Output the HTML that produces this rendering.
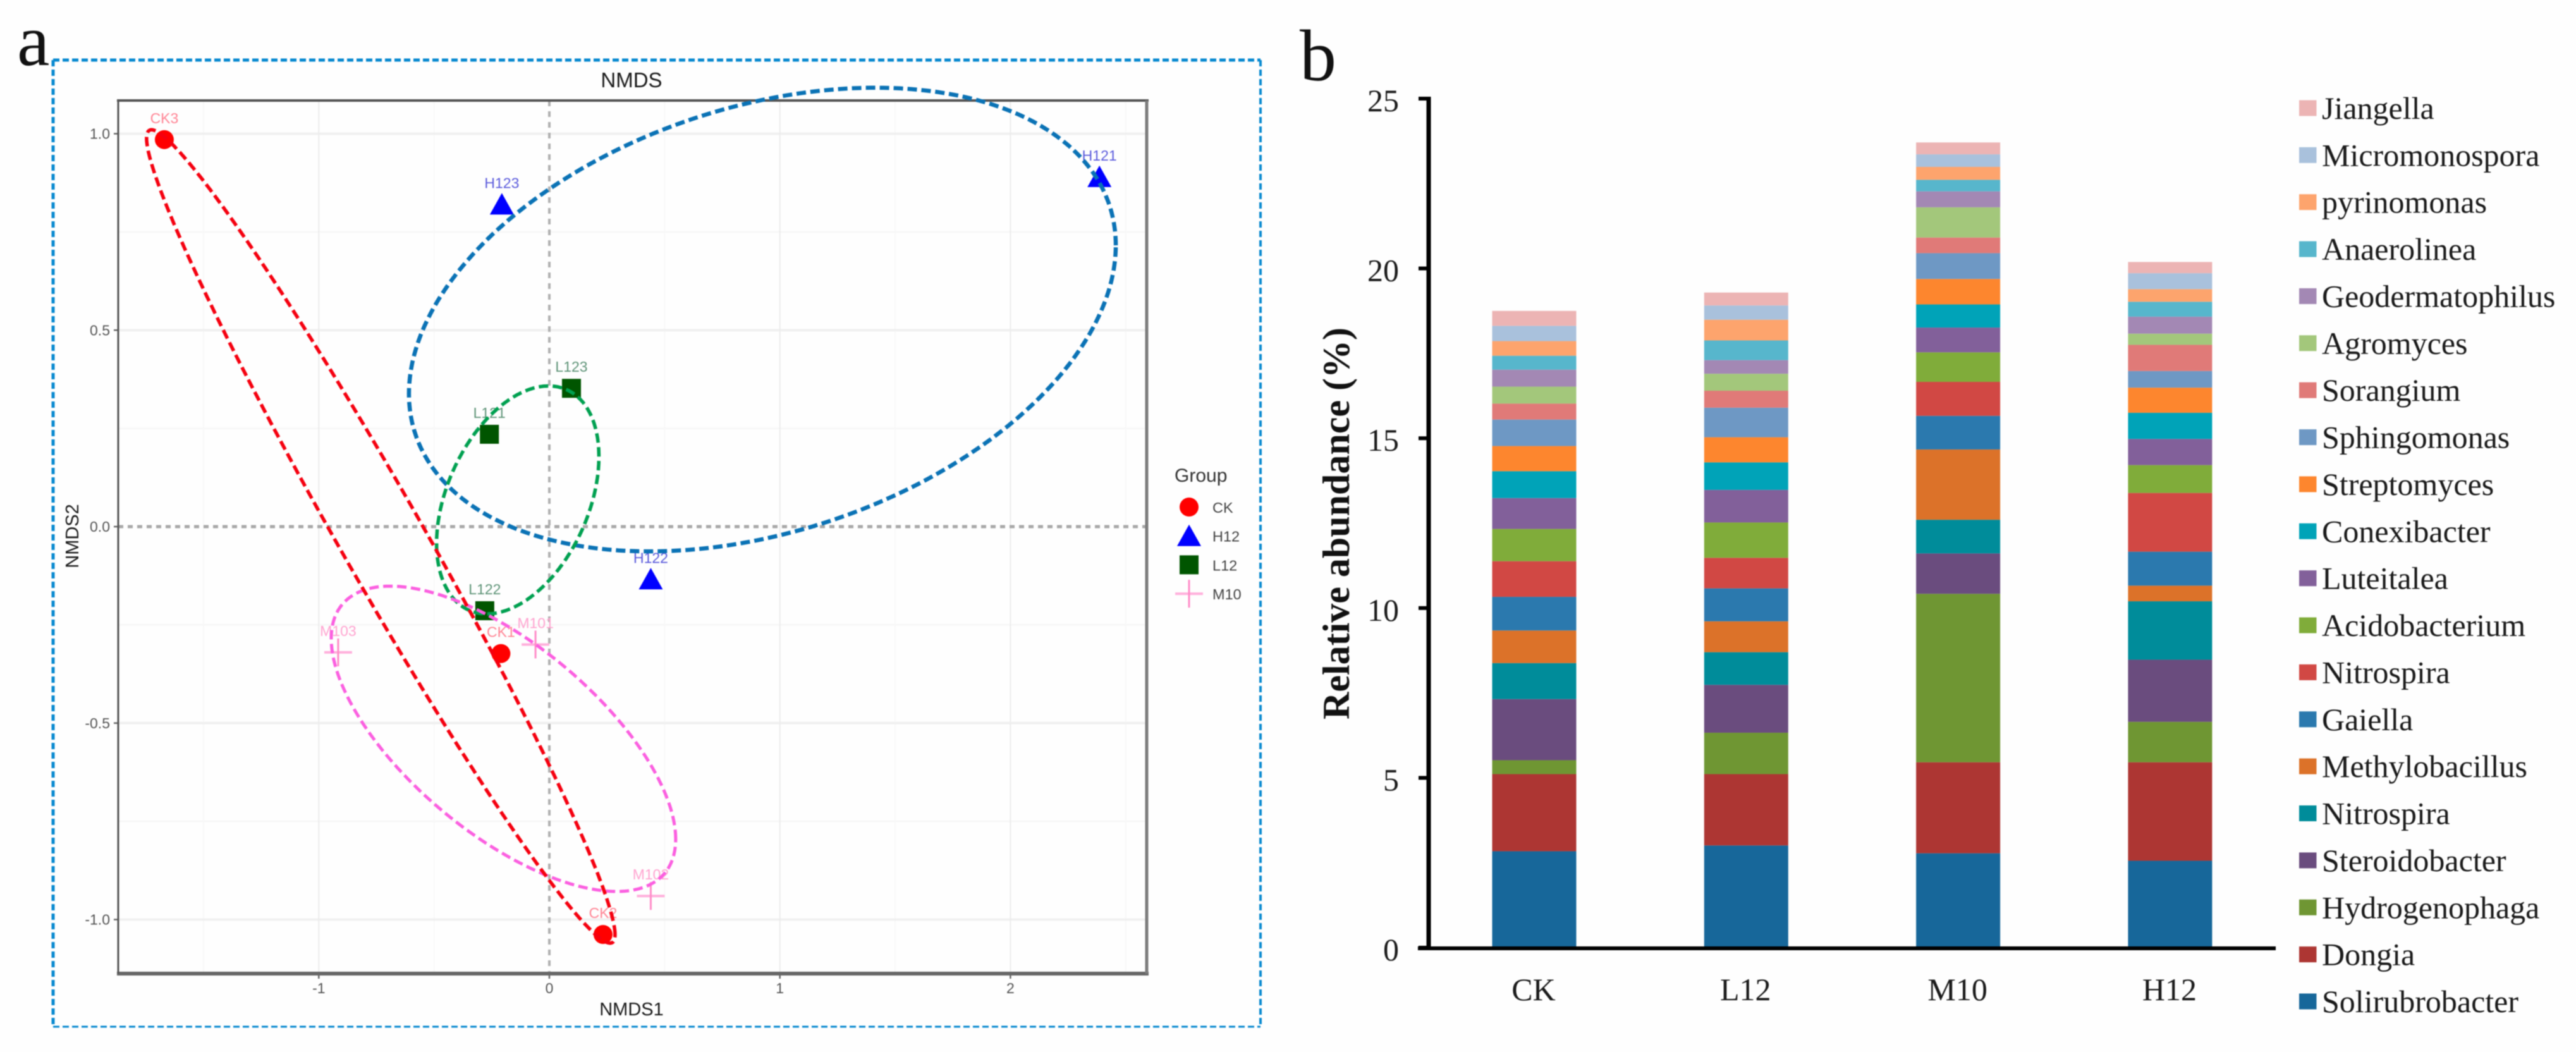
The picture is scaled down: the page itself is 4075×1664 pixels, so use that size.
<!DOCTYPE html>
<html lang="en">
<head>
<meta charset="utf-8">
<title>NMDS ordination and relative abundance</title>
<style>
html,body{margin:0;padding:0;background:#fff;width:4075px;height:1664px;overflow:hidden}
svg{display:block;filter:blur(0.8px)}
.sans{font-family:"Liberation Sans",sans-serif}
.serif{font-family:"Liberation Serif",serif}
</style>
</head>
<body>
<svg id="figure" xmlns="http://www.w3.org/2000/svg" width="4075" height="1664" viewBox="0 0 4075 1664">
<rect x="0" y="0" width="4075" height="1664" fill="#fefefe"/>
<text class="serif" x="27" y="103" font-size="116" fill="#111">a</text>
<text class="serif" x="2056" y="127" font-size="116" fill="#111">b</text>
<g id="frame" fill="none" stroke="#0a8ad0">
<line x1="84" y1="95" x2="1994" y2="95" stroke-width="5" stroke-dasharray="10 5"/>
<line x1="84" y1="95" x2="84" y2="1624" stroke-width="5" stroke-dasharray="10 5"/>
<line x1="1994" y1="95" x2="1994" y2="1624" stroke-width="4" stroke-dasharray="10 5"/>
<line x1="84" y1="1624" x2="1994" y2="1624" stroke-width="3" stroke-dasharray="10 5"/>
</g>
<g id="nmds"></g>
<g id="bars"></g>
</svg>
<script>
// ---- NMDS data ----
const sampleNames = ['CK3','CK1','CK2','H121','H123','H122','L123','L121','L122','M103','M101','M102'];
const sampleGroups = ['CK','CK','CK','H12','H12','H12','L12','L12','L12','M10','M10','M10'];
const sampleNmds1 = [-1.67,-0.21,0.233,2.386,-0.206,0.44,0.096,-0.26,-0.28,-0.916,-0.06,0.44];
const sampleNmds2 = [0.985,-0.323,-1.038,0.89,0.82,-0.134,0.352,0.235,-0.214,-0.32,-0.30,-0.94];
const nmdsXTicks = [-1,0,1,2];
const nmdsXTickLabels = ['-1','0','1','2'];
const nmdsYTicks = [1,0.5,0,-0.5,-1];
const nmdsYTickLabels = ['1.0','0.5','0.0','-0.5','-1.0'];
const nmdsXMinor = [-1.5,-0.5,0.5,1.5,2.5];
const nmdsYMinor = [0.75,0.25,-0.25,-0.75];
// ellipse summary: group, centre, half-extents, correlation
const ellipseGroups = ['H12','L12','M10','CK'];
const ellipseCentreX = [0.924,-0.137,-0.199,-0.731];
const ellipseCentreY = [0.527,0.068,-0.54,-0.025];
const ellipseSpreadX = [1.533,0.352,0.747,1.016];
const ellipseSpreadY = [0.59,0.29,0.3885,1.035];
const ellipseCorr = [0.32,0.38,-0.657,-0.979];
const legendGroups = ['CK','H12','L12','M10'];

// ---- Stacked bar data ----
const barCategories = ['CK','L12','M10','H12'];
const speciesNames = ['Solirubrobacter','Dongia','Hydrogenophaga','Steroidobacter','Nitrospira','Methylobacillus','Gaiella','Nitrospira','Acidobacterium','Luteitalea','Conexibacter','Streptomyces','Sphingomonas','Sorangium','Agromyces','Geodermatophilus','Anaerolinea','pyrinomonas','Micromonospora','Jiangella'];
const solirubrobacter = [2.84,3.01,2.78,2.56];
const dongia = [2.27,2.10,2.68,2.90];
const hydrogenophaga = [0.41,1.22,4.96,1.19];
const steroidobacter = [1.80,1.41,1.19,1.83];
const nitrospiraA = [1.06,0.96,0.99,1.72];
const methylobacillus = [0.96,0.91,2.07,0.46];
const gaiella = [0.99,0.97,0.99,1.00];
const nitrospiraB = [1.05,0.90,1.00,1.73];
const acidobacterium = [0.95,1.04,0.87,0.82];
const luteitalea = [0.91,0.96,0.73,0.77];
const conexibacter = [0.79,0.81,0.68,0.77];
const streptomyces = [0.74,0.74,0.75,0.74];
const sphingomonas = [0.78,0.87,0.76,0.49];
const sorangium = [0.47,0.50,0.46,0.77];
const agromyces = [0.50,0.50,0.89,0.33];
const geodermatophilus = [0.50,0.40,0.47,0.50];
const anaerolinea = [0.41,0.58,0.34,0.44];
const pyrinomonas = [0.43,0.61,0.38,0.37];
const micromonospora = [0.45,0.42,0.37,0.47];
const jiangella = [0.44,0.38,0.35,0.33];
const barYTicks = [0,5,10,15,20,25];
const barYTickLabels = ['0','5','10','15','20','25'];

// ---- Rendering ----
const seriesValues = [solirubrobacter,dongia,hydrogenophaga,steroidobacter,nitrospiraA,methylobacillus,gaiella,nitrospiraB,acidobacterium,luteitalea,conexibacter,streptomyces,sphingomonas,sorangium,agromyces,geodermatophilus,anaerolinea,pyrinomonas,micromonospora,jiangella];
const seriesColors = ['#17679a','#ad3633','#6f9633','#6a4c7e','#008c9a','#dc7229','#2b79ae','#d14844','#80ac3a','#82609a','#00a3b8','#fd862e','#6e98c4','#e07a78','#a3c77b','#a388b4','#57b6cc','#fda46d','#a9c1dc','#ecb4b4'];
const SVGNS = 'http://www.w3.org/2000/svg';
function mk(parent, tag, attrs, text){
  const e = document.createElementNS(SVGNS, tag);
  for (const k in attrs) e.setAttribute(k, attrs[k]);
  if (text !== undefined) e.textContent = text;
  parent.appendChild(e);
  return e;
}
const nmds = document.getElementById('nmds');
const bars = document.getElementById('bars');
const PX0 = 869, PXU = 364.7, PY0 = 833, PYU = 621.5;
const PL = 187, PR = 1814, PT = 159, PB = 1540;
const nx = v => PX0 + PXU * v;
const ny = v => PY0 - PYU * v;
const groupStyle = {
  CK:{marker:'#ff0000',label:'#ff8494',ell:'#f5000f',w:5.5},
  H12:{marker:'#0000ff',label:'#5c5cdc',ell:'#0a72b5',w:6.5},
  L12:{marker:'#005500',label:'#5f9478',ell:'#00a050',w:5.5},
  M10:{marker:'#ff9ccf',label:'#ffa4d0',ell:'#fb5fe0',w:5}
};
function drawMarker(g, group, x, y){
  const c = groupStyle[group].marker;
  if (group === 'CK') return [mk(g,'circle',{cx:x,cy:y,r:15,fill:c})];
  if (group === 'H12') return [mk(g,'polygon',{points:(x-19)+','+(y+16)+' '+x+','+(y-18)+' '+(x+19)+','+(y+16),fill:c})];
  if (group === 'L12') return [mk(g,'rect',{x:x-15,y:y-15,width:30,height:30,fill:c})];
  return [mk(g,'line',{x1:x-22,y1:y,x2:x+22,y2:y,stroke:'#ffb0dc','stroke-width':4}),
          mk(g,'line',{x1:x,y1:y-22,x2:x,y2:y+22,stroke:'#ff8cc8','stroke-width':3})];
}
// grid
nmdsYMinor.forEach(v => {
  const l = mk(nmds,'line',{x1:PL,x2:PR,y1:ny(v),y2:ny(v),stroke:'#f7f7f7','stroke-width':3});
  
  
});
nmdsXMinor.forEach(v => {
  const l = mk(nmds,'line',{x1:nx(v),x2:nx(v),y1:PT,y2:PB,stroke:'#f8f8f8','stroke-width':2});
  
  
});
nmdsYTicks.forEach((v,i) => {
  if (v !== 0) {
    const l = mk(nmds,'line',{x1:PL,x2:PR,y1:ny(v),y2:ny(v),stroke:'#f0f0f0','stroke-width':4});
    
    
  }
  const t = mk(nmds,'line',{x1:PL-7,x2:PL,y1:ny(v),y2:ny(v),stroke:'#666','stroke-width':2.5});
  
  
  const lb = mk(nmds,'text',{x:PL-13,y:ny(v)+8,'text-anchor':'end','font-size':23,fill:'#555',class:'sans'},nmdsYTickLabels[i]);
  
  
});
nmdsXTicks.forEach((v,i) => {
  if (v !== 0) {
    const l = mk(nmds,'line',{x1:nx(v),x2:nx(v),y1:PT,y2:PB,stroke:'#ececec','stroke-width':2});
    
    
  }
  const t = mk(nmds,'line',{x1:nx(v),x2:nx(v),y1:PB,y2:PB+8,stroke:'#666','stroke-width':2.5});
  
  
  const lb = mk(nmds,'text',{x:nx(v),y:1571,'text-anchor':'middle','font-size':23,fill:'#555',class:'sans'},nmdsXTickLabels[i]);
  
  
});
// zero lines
const zeroH = mk(nmds,'line',{x1:PL,x2:PR,y1:ny(0),y2:ny(0),stroke:'#a8a8a8','stroke-width':5,'stroke-dasharray':'8 7'});


const zeroV = mk(nmds,'line',{x1:nx(0),x2:nx(0),y1:PT,y2:PB,stroke:'#b0b0b0','stroke-width':4,'stroke-dasharray':'9 8'});


// panel border
const borderTop = mk(nmds,'line',{x1:PL-2,x2:PR+3,y1:PT,y2:PT,stroke:'#555','stroke-width':4});


const borderBottom = mk(nmds,'line',{x1:PL-2,x2:PR+3,y1:PB,y2:PB,stroke:'#666','stroke-width':6});


const borderLeft = mk(nmds,'line',{x1:PL,x2:PL,y1:PT,y2:PB,stroke:'#555','stroke-width':3});


const borderRight = mk(nmds,'line',{x1:PR,x2:PR,y1:PT,y2:PB,stroke:'#7c7c7c','stroke-width':5});


// markers and labels
sampleNames.forEach((name,i) => {
  const g = mk(nmds,'g',{});
  
  
  const x = nx(sampleNmds1[i]), y = ny(sampleNmds2[i]);
  drawMarker(g, sampleGroups[i], x, y);
  const t = mk(g,'text',{x:x,y:y-26,'text-anchor':'middle','font-size':23,fill:groupStyle[sampleGroups[i]].label,class:'sans'},name);
  
  
});
// ellipses
ellipseGroups.forEach((grp,i) => {
  const r = ellipseCorr[i], q = Math.sqrt(1 - r*r);
  let d = '';
  for (let a = 0; a <= 360; a += 1) {
    const t = a * Math.PI / 180;
    const dx = ellipseCentreX[i] + ellipseSpreadX[i] * Math.cos(t);
    const dy = ellipseCentreY[i] + ellipseSpreadY[i] * (r * Math.cos(t) + q * Math.sin(t));
    d += (a ? 'L' : 'M') + nx(dx).toFixed(1) + ' ' + ny(dy).toFixed(1);
  }
  const p = mk(nmds,'path',{d:d + 'Z',fill:'none',stroke:groupStyle[grp].ell,'stroke-width':groupStyle[grp].w,'stroke-dasharray':'15 7'});
  
  
});
// nmds titles
const nmdsTitle = mk(nmds,'text',{x:999,y:138,'text-anchor':'middle','font-size':33,fill:'#1a1a1a',class:'sans'},'NMDS');


const nmdsXTitle = mk(nmds,'text',{x:999,y:1606,'text-anchor':'middle','font-size':29,fill:'#1a1a1a',class:'sans'},'NMDS1');


const nmdsYTitle = mk(nmds,'text',{x:0,y:0,'text-anchor':'middle','font-size':29,fill:'#1a1a1a',class:'sans',transform:'translate(124 848) rotate(-90)'},'NMDS2');


// group legend
const legendTitle = mk(nmds,'text',{x:1858,y:762,'font-size':30,fill:'#333',class:'sans'},'Group');


legendGroups.forEach((grp,i) => {
  const cy = 802 + 45.7 * i;
  const g = mk(nmds,'g',{});
  
  
  drawMarker(g, grp, 1881, cy);
  const t = mk(g,'text',{x:1918,y:cy+9,'font-size':23.5,fill:'#444',class:'sans'},grp);
  
  
});

// ---- Bar chart ----
const BY0 = 1499, BYU = 53.72, BX0 = 2427, BXS = 335.3, BW = 133;
const by = v => BY0 - BYU * v;
const bx = i => BX0 + BXS * i;
const yAxis = mk(bars,'line',{x1:2260,x2:2260,y1:by(25)-3,y2:BY0+3,stroke:'#000','stroke-width':7});


barCategories.forEach((cat,c) => {
  let acc = 0;
  seriesValues.forEach((vals,s) => {
    const top = acc + vals[c];
    const r = mk(bars,'rect',{x:bx(c)-BW/2,y:by(top),width:BW,height:by(acc)-by(top),fill:seriesColors[s]});
    
    
    acc = top;
  });
  const t = mk(bars,'text',{x:bx(c)-1,y:1582,'text-anchor':'middle','font-size':50,fill:'#1a1a1a',class:'serif'},cat);
  
  
});
const xAxis = mk(bars,'line',{x1:2243,x2:3600,y1:1500,y2:1500,stroke:'#000','stroke-width':6});


barYTicks.forEach((v,i) => {
  const t = mk(bars,'line',{x1:2244,x2:2260,y1:by(v),y2:by(v),stroke:'#000','stroke-width':6});
  
  
  const lb = mk(bars,'text',{x:2213,y:by(v)+20,'text-anchor':'end','font-size':50,fill:'#1a1a1a',class:'serif'},barYTickLabels[i]);
  
  
});
const barYTitle = mk(bars,'text',{x:0,y:0,'text-anchor':'middle','font-size':60,'font-weight':'bold',fill:'#111',class:'serif',transform:'translate(2134 828) rotate(-90)'},'Relative abundance (%)');


speciesNames.forEach((name,s) => {
  const cy = 1584 - 74.37 * s;
  const g = mk(bars,'g',{});
  
  
  const sw = mk(g,'rect',{x:3637,y:cy-12.5,width:27.5,height:25,fill:seriesColors[s]});
  
  
  const t = mk(g,'text',{x:3673,y:cy+17,'font-size':50,fill:'#1a1a1a',class:'serif'},name);
  
  
});
</script>
</body>
</html>
